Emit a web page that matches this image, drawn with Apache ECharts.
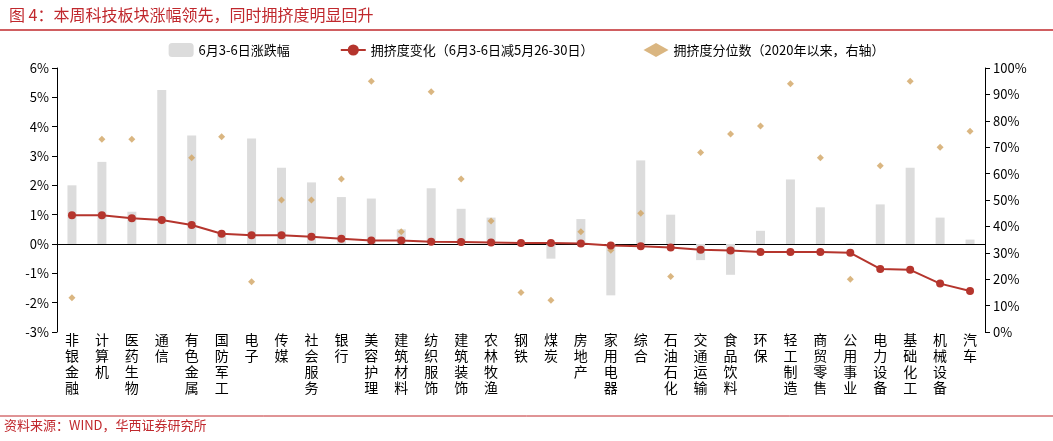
<!DOCTYPE html>
<html><head><meta charset="utf-8">
<script src="https://cdn.jsdelivr.net/npm/echarts@6/dist/echarts.min.js"></script>
<style>body{margin:0;background:#fff}#c{width:1053px;height:441px}</style>
</head><body><div id="c"></div>
<script>
const categories = ['非银金融','计算机','医药生物','通信','有色金属','国防军工','电子','传媒','社会服务','银行','美容护理','建筑材料','纺织服饰','建筑装饰','农林牧渔','钢铁','煤炭','房地产','家用电器','综合','石油石化','交通运输','食品饮料','环保','轻工制造','商贸零售','公用事业','电力设备','基础化工','机械设备','汽车'];
const weekChange = [2.0,2.8,1.1,5.25,3.7,0.4,3.6,2.6,2.1,1.6,1.55,0.5,1.9,1.2,0.9,0.05,-0.5,0.85,-1.75,2.85,1.0,-0.55,-1.05,0.45,2.2,1.25,0.02,1.35,2.6,0.9,0.15];
const crowdChange = [0.98,0.98,0.88,0.82,0.65,0.35,0.3,0.3,0.25,0.18,0.12,0.12,0.08,0.07,0.05,0.03,0.03,0.02,-0.05,-0.08,-0.12,-0.2,-0.22,-0.27,-0.27,-0.27,-0.3,-0.85,-0.88,-1.35,-1.6];
const crowdPct = [13,73,73,42,66,74,19,50,50,58,95,38,91,58,42,15,12,38,31,45,21,68,75,78,94,66,20,63,95,70,76];
const leftTicks = [-3,6,1];
const font = '"Noto Sans CJK SC", sans-serif';

const chart = echarts.init(document.getElementById('c'));
chart.setOption({
  animation: false,
  textStyle: { fontFamily: font },
  title: { text: '图 4：本周科技板块涨幅领先，同时拥挤度明显回升', left: 4, top: 2,
    textStyle: { color: '#c0282d', fontSize: 16, fontWeight: 'normal', fontFamily: font } },
  graphic: [
    { type: 'line', shape: { x1: 0, y1: 30, x2: 1053, y2: 30 }, style: { stroke: '#c0282d', lineWidth: 1.5 } },
    { type: 'line', shape: { x1: 0, y1: 416, x2: 1053, y2: 416 }, style: { stroke: '#c0282d', lineWidth: 1 } },
    { type: 'text', left: 4, top: 419, style: { text: '资料来源：WIND，华西证券研究所', fill: '#c0282d', fontSize: 13, fontFamily: font } }
  ],
  legend: { top: 38, left: 'center', itemGap: 50, textStyle: { fontSize: 13, color: '#000' },
    data: [{ name: '6月3-6日涨跌幅' }, { name: '拥挤度变化（6月3-6日减5月26-30日）' }, { name: '拥挤度分位数（2020年以来，右轴）' }] },
  grid: { left: 57, right: 68, top: 68, bottom: 109 },
  xAxis: { type: 'category', data: categories,
    axisLine: { onZero: true, lineStyle: { color: '#000' } }, axisTick: { show: false },
    axisLabel: { interval: 0, color: '#000', fontSize: 14, lineHeight: 16, margin: 0,
      formatter: v => v.split('').join('\n') } },
  yAxis: [
    { type: 'value', min: leftTicks[0], max: leftTicks[1], interval: leftTicks[2],
      axisLine: { show: true, lineStyle: { color: '#000' } }, axisTick: { show: true },
      splitLine: { show: false }, axisLabel: { formatter: '{value}%', color: '#000', fontSize: 13 } },
    { type: 'value', min: 0, max: 100, interval: 10,
      axisLine: { show: true, lineStyle: { color: '#000' } }, axisTick: { show: true },
      splitLine: { show: false }, axisLabel: { formatter: '{value}%', color: '#000', fontSize: 13 } }
  ],
  series: [
    { name: '6月3-6日涨跌幅', type: 'bar', data: weekChange, barWidth: 9, itemStyle: { color: '#dcdcdc' } },
    { name: '拥挤度变化（6月3-6日减5月26-30日）', type: 'line', data: crowdChange, symbol: 'circle', symbolSize: 8,
      lineStyle: { color: '#b5352d', width: 2 }, itemStyle: { color: '#b5352d' } },
    { name: '拥挤度分位数（2020年以来，右轴）', type: 'scatter', yAxisIndex: 1, data: crowdPct, symbol: 'diamond', symbolSize: 7,
      itemStyle: { color: '#d1a462' } }
  ]
});
</script></body></html>
